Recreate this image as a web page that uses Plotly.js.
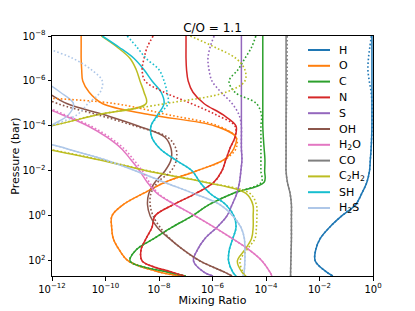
<!DOCTYPE html>
<html><head><meta charset="utf-8">
<script src="https://cdn.plot.ly/plotly-3.0.1.min.js"></script>
<style>html,body{margin:0;padding:0;background:#fff}#chart{width:415px;height:311px}</style>
</head><body><div id="chart"></div>
<script>
// log10 pressure grid (bar)
const logP = [-8,-7.5,-7,-6.5,-6,-5.5,-5,-4.5,-4,-3.5,-3,-2.5,-2,-1.5,-1,-0.5,0,0.5,1,1.5,2,2.5,2.67];

const species = ['H','O','C','N','S','OH','H2O','CO','C2H2','SH','H2S'];
const labels = ['H','O','C','N','S','OH','H<sub>2</sub>O','CO','C<sub>2</sub>H<sub>2</sub>','SH','H<sub>2</sub>S'];
const colors = ['#1f77b4','#ff7f0e','#2ca02c','#d62728','#9467bd','#8c564b','#e377c2','#7f7f7f','#bcbd22','#17becf','#aec7e8'];

// log10 mixing ratios, solid (model A) and dotted (model B)
const H_solid   = [-0.04,-0.04,-0.04,-0.04,-0.04,-0.04,-0.04,-0.04,-0.04,-0.05,-0.07,-0.10,-0.13,-0.23,-0.42,-0.65,-1.17,-1.62,-1.97,-2.14,-2.16,-1.73,-1.50];
const H_dotted  = [-0.06,-0.12,-0.17,-0.19,-0.14,-0.07,-0.04,-0.04,-0.04,-0.05,-0.07,-0.10,-0.13,-0.23,-0.42,-0.65,-1.17,-1.62,-1.97,-2.14,-2.16,-1.73,-1.50];
const O_solid   = [-10.91,-10.91,-10.91,-10.89,-10.85,-10.61,-10.12,-8.33,-5.91,-5.12,-5.20,-5.57,-6.61,-7.77,-8.59,-9.34,-9.76,-9.77,-9.71,-9.49,-9.15,-7.96,-7.20];
const O_dotted  = [-16,-16,-16,-16,-16,-14.5,-9.68,-7.66,-5.79,-5.12,-5.12,-5.55,-6.61,-7.77,-8.59,-9.34,-9.76,-9.77,-9.71,-9.49,-9.15,-7.96,-7.20];
const C_solid   = [-4.12,-4.12,-4.12,-4.12,-4.12,-4.12,-4.12,-4.12,-4.12,-4.10,-4.07,-4.04,-4.05,-4.07,-5.24,-6.13,-6.76,-7.51,-8.18,-8.85,-9.08,-7.66,-7.00];
const C_dotted  = [-4.38,-4.54,-4.79,-5.05,-5.38,-5.16,-4.36,-4.17,-4.19,-4.19,-4.19,-4.19,-4.19,-4.17,-5.24,-6.13,-6.76,-7.51,-8.18,-8.85,-9.08,-7.66,-7.00];
const N_solid   = [-6.99,-6.99,-6.99,-6.97,-6.91,-6.73,-6.32,-5.61,-5.12,-5.16,-5.35,-5.50,-5.65,-5.95,-6.62,-7.47,-8.15,-8.26,-8.48,-8.67,-8.63,-7.51,-7.05];
const N_dotted  = [-8.22,-8.44,-8.56,-8.63,-8.52,-7.81,-6.80,-5.87,-5.16,-5.16,-5.35,-5.50,-5.65,-5.95,-6.62,-7.47,-8.15,-8.26,-8.48,-8.67,-8.63,-7.51,-7.05];
const S_solid   = [-4.92,-4.92,-4.92,-4.92,-4.92,-4.92,-4.92,-4.92,-4.92,-4.92,-4.92,-4.90,-4.94,-4.99,-5.09,-5.27,-5.46,-5.83,-6.28,-6.56,-6.71,-6.32,-5.98];
const S_dotted  = [-5.94,-6.09,-6.17,-6.13,-6.02,-5.68,-5.27,-5.01,-4.92,-4.92,-4.92,-4.90,-4.94,-4.99,-5.09,-5.27,-5.46,-5.83,-6.28,-6.56,-6.71,-6.32,-5.98];
const OH_solid  = [-16.5,-15.66,-14.8,-13.93,-13.07,-12.2,-11.45,-10.05,-8.78,-7.78,-7.55,-7.55,-7.78,-8.15,-8.38,-8.43,-8.33,-8.07,-7.62,-7.10,-6.47,-5.55,-5.27];
const OH_dotted = [-16.8,-16,-15.2,-14.4,-13.5,-12.7,-11.8,-10.3,-8.9,-7.68,-7.37,-7.35,-7.55,-8.05,-8.30,-8.33,-8.22,-7.96,-7.60,-7.10,-6.47,-5.55,-5.27];
const H2O_solid = [-18,-17,-16.5,-15.8,-14.7,-13.65,-12.6,-11.62,-10.65,-9.95,-9.41,-9.05,-8.72,-8.44,-8.07,-7.40,-6.65,-5.94,-5.27,-4.64,-4.15,-3.85,-3.78];
const H2O_dotted= [-18,-17,-16.5,-15.8,-14.7,-13.55,-12.5,-11.52,-10.55,-9.85,-9.31,-8.95,-8.62,-8.36,-8.02,-7.40,-6.65,-5.94,-5.27,-4.64,-4.15,-3.85,-3.78];
const CO_solid  = [-3.25,-3.25,-3.25,-3.25,-3.25,-3.25,-3.25,-3.25,-3.25,-3.25,-3.25,-3.25,-3.25,-3.20,-3.10,-3.05,-3.05,-3.05,-3.05,-3.06,-3.07,-3.08,-3.08];
const CO_dotted = [-3.21,-3.21,-3.21,-3.21,-3.21,-3.22,-3.23,-3.24,-3.25,-3.25,-3.25,-3.25,-3.25,-3.20,-3.10,-3.05,-3.05,-3.05,-3.05,-3.06,-3.07,-3.08,-3.08];
const C2H2_solid= [-10.16,-9.56,-9.08,-8.85,-8.71,-8.56,-8.48,-10.3,-12.06,-14.5,-12.32,-10.25,-8.44,-6.28,-4.75,-4.49,-4.48,-4.48,-4.54,-4.79,-5.07,-4.90,-4.75];
const C2H2_dotted=[-6.83,-5.91,-5.12,-4.79,-4.79,-5.50,-7.73,-10.3,-12.06,-14.5,-12.25,-10.2,-8.38,-6.25,-4.60,-4.36,-4.34,-4.36,-4.41,-4.71,-4.97,-4.86,-4.75];
const SH_solid  = [-10.12,-9.49,-8.93,-8.56,-8.26,-7.92,-7.81,-8.05,-8.30,-8.27,-7.97,-7.40,-6.76,-6.47,-6.09,-5.50,-5.20,-5.12,-5.24,-5.37,-5.40,-5.24,-5.12];
const SH_dotted = [-9.19,-8.82,-8.48,-8.00,-7.81,-7.70,-7.66,-8.00,-8.30,-8.27,-7.97,-7.40,-6.76,-6.47,-6.09,-5.50,-5.20,-5.12,-5.24,-5.37,-5.40,-5.24,-5.12];
const H2S_solid = [-16,-15,-14.2,-13.4,-12.35,-11.69,-11.2,-11.38,-12.06,-12.67,-11.48,-10.02,-8.86,-7.81,-6.70,-5.72,-5.24,-4.94,-4.81,-4.79,-4.79,-4.82,-4.86];
const H2S_dotted= [-13.4,-12.3,-11.21,-10.53,-10.12,-10.2,-10.65,-11.06,-11.99,-12.67,-11.48,-10.02,-8.86,-7.81,-6.70,-5.72,-5.24,-4.94,-4.81,-4.79,-4.79,-4.82,-4.86];

const solidSets  = [H_solid,O_solid,C_solid,N_solid,S_solid,OH_solid,H2O_solid,CO_solid,C2H2_solid,SH_solid,H2S_solid];
const dottedSets = [H_dotted,O_dotted,C_dotted,N_dotted,S_dotted,OH_dotted,H2O_dotted,CO_dotted,C2H2_dotted,SH_dotted,H2S_dotted];

const xTickExp = [-12,-10,-8,-6,-4,-2,0];
const yTickExp = [-8,-6,-4,-2,0,2];

const pow10 = v => Math.pow(10, v);
const P = logP.map(pow10);
const traces = [];
species.forEach((s, i) => {
  traces.push({x: solidSets[i].map(pow10), y: P, type:'scatter', mode:'lines', name:s, showlegend:false,
    line:{color:colors[i], width:1.5, shape:'spline', smoothing:1}, hoverinfo:'skip'});
});
species.forEach((s, i) => {
  traces.push({x: dottedSets[i].map(pow10), y: P, type:'scatter', mode:'lines', name:s+' (dotted)', showlegend:false,
    line:{color:colors[i], width:1.6, dash:'1.6px,2.2px', shape:'spline', smoothing:1}, hoverinfo:'skip'});
});

const fnt = 'DejaVu Sans, sans-serif';
const tickText = e => '10<sup>' + (e < 0 ? '\u2212' + (-e) : e) + '</sup>';

// legend drawn in paper coordinates
const L = 52, R = 373, T = 36, B = 276;
const px2x = p => (p - L) / (R - L);
const py2y = p => 1 - (p - T) / (B - T);
const shapes = [], annotations = [];
labels.forEach((lab, i) => {
  const yy = py2y(50 + 15.8 * i);
  shapes.push({type:'line', xref:'paper', yref:'paper', x0:px2x(308), x1:px2x(330), y0:yy, y1:yy,
    line:{color:colors[i], width:2}});
  annotations.push({xref:'paper', yref:'paper', x:px2x(337), y:yy, xanchor:'left', yanchor:'middle',
    text:lab, showarrow:false, font:{family:fnt, size:11, color:'#000'}});
});

const layout = {
  width:415, height:311,
  margin:{l:L, r:415-R, t:T, b:311-B, pad:0},
  paper_bgcolor:'#fff', plot_bgcolor:'#fff',
  font:{family:fnt, size:10, color:'#000'},
  title:{text:'C/O = 1.1', x:0.5, xref:'paper', xanchor:'center', y:1-28/311, yref:'container', yanchor:'middle',
    font:{family:fnt, size:12, color:'#000'}},
  xaxis:{type:'log', range:[-12,0], tickvals:xTickExp.map(pow10), ticktext:xTickExp.map(tickText),
    ticks:'outside', ticklen:3.5, tickwidth:1, tickcolor:'#000', showgrid:false, zeroline:false,
    showline:true, mirror:true, linecolor:'#000', linewidth:1, tickfont:{family:fnt, size:10},
    title:{text:'Mixing Ratio', font:{family:fnt, size:11}, standoff:2}, automargin:false},
  yaxis:{type:'log', range:[2.67,-8], tickvals:yTickExp.map(pow10), ticktext:yTickExp.map(tickText),
    ticks:'outside', ticklen:3.5, tickwidth:1, tickcolor:'#000', showgrid:false, zeroline:false,
    showline:true, mirror:true, linecolor:'#000', linewidth:1, tickfont:{family:fnt, size:10},
    title:{text:'Pressure (bar)', font:{family:fnt, size:11}, standoff:0}, automargin:false},
  shapes:shapes, annotations:annotations, showlegend:false
};
Plotly.newPlot('chart', traces, layout, {staticPlot:true, displayModeBar:false});
</script></body></html>
